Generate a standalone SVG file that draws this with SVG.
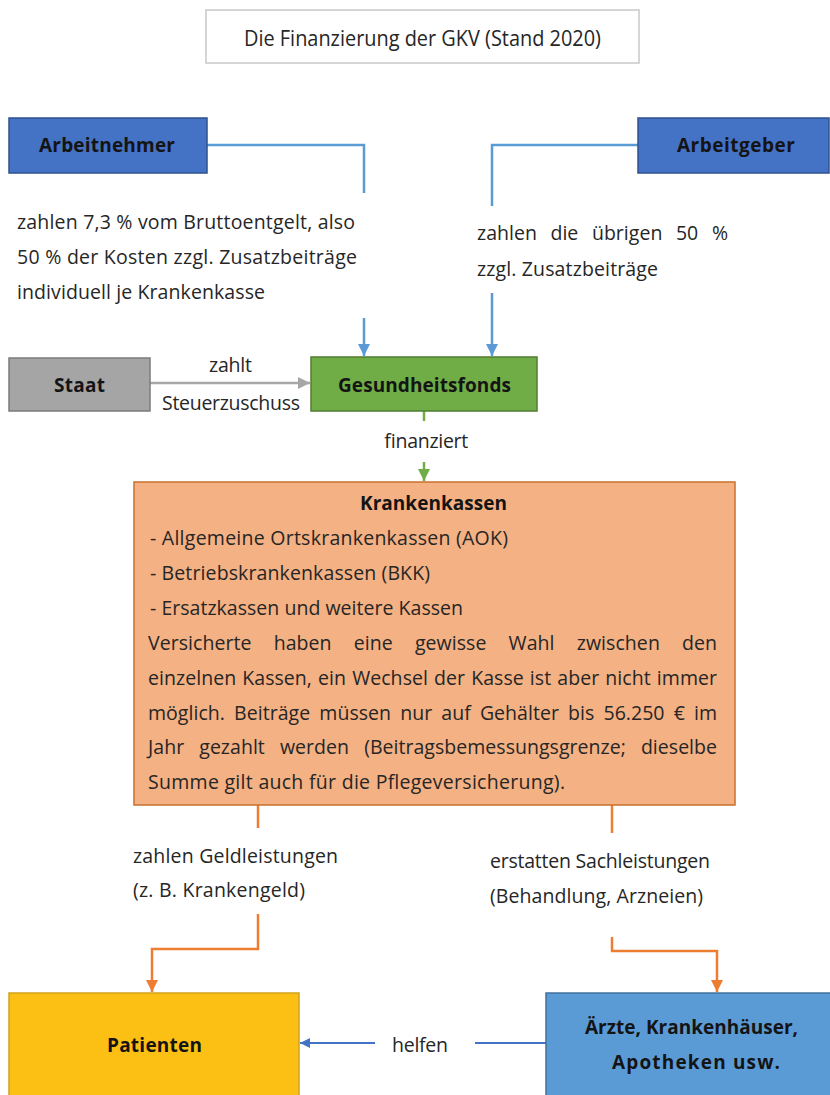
<svg xmlns="http://www.w3.org/2000/svg" width="830" height="1095" viewBox="0 0 830 1095">
<defs>
<style>
.t{font-family:"Open Sans","Noto Sans","DejaVu Sans",sans-serif;font-size:19.5px;fill:#262626}
.b{font-weight:700;fill:#141414;font-size:19px}
.ttl{font-size:21px}
.c{fill:none;stroke-width:2.5}
.blue{stroke:#5b9bd5}
.dblue{stroke:#4472c4;stroke-width:2}
.grey{stroke:#a6a6a6}
.green{stroke:#70ad47}
.orange{stroke:#ed7d31}
</style>
<marker id="mb" markerUnits="userSpaceOnUse" viewBox="0 0 12 12" markerWidth="12" markerHeight="12" refX="12" refY="6" orient="auto"><path d="M0,0 L12,6 L0,12 z" fill="#5b9bd5"/></marker>
<marker id="md" markerUnits="userSpaceOnUse" viewBox="0 0 12 12" markerWidth="10" markerHeight="10" refX="12" refY="6" orient="auto"><path d="M0,0 L12,6 L0,12 z" fill="#4472c4"/></marker>
<marker id="mg" markerUnits="userSpaceOnUse" viewBox="0 0 12 12" markerWidth="12" markerHeight="12" refX="12" refY="6" orient="auto"><path d="M0,0 L12,6 L0,12 z" fill="#a6a6a6"/></marker>
<marker id="mgr" markerUnits="userSpaceOnUse" viewBox="0 0 12 12" markerWidth="12" markerHeight="12" refX="12" refY="6" orient="auto"><path d="M0,0 L12,6 L0,12 z" fill="#70ad47"/></marker>
<marker id="mo" markerUnits="userSpaceOnUse" viewBox="0 0 12 12" markerWidth="12" markerHeight="12" refX="12" refY="6" orient="auto"><path d="M0,0 L12,6 L0,12 z" fill="#ed7d31"/></marker>
</defs>
<rect width="830" height="1095" fill="#ffffff"/>

<g id="connectors">
<polyline class="c blue" points="207,145 364,145 364,193"/>
<line class="c blue" x1="364" y1="318" x2="364" y2="356" marker-end="url(#mb)"/>
<polyline class="c blue" points="638,145 492,145 492,206"/>
<line class="c blue" x1="492" y1="293" x2="492" y2="356" marker-end="url(#mb)"/>
<line class="c grey" x1="150" y1="383" x2="310" y2="383" marker-end="url(#mg)"/>
<line class="c green" x1="424" y1="411" x2="424" y2="421"/>
<line class="c green" x1="424" y1="462" x2="424" y2="481" marker-end="url(#mgr)"/>
<line class="c orange" x1="258" y1="805" x2="258" y2="828"/>
<polyline class="c orange" points="258,914 258,949 152,949 152,992" marker-end="url(#mo)"/>
<line class="c orange" x1="612" y1="805" x2="612" y2="833"/>
<polyline class="c orange" points="612,937 612,951 717,951 717,992" marker-end="url(#mo)"/>
<line class="c dblue" x1="375" y1="1043" x2="300" y2="1043" marker-end="url(#md)"/>
<line class="c dblue" x1="475" y1="1043" x2="546" y2="1043"/>
</g>

<g id="labels">
<text class="t" x="17" y="229" textLength="338">zahlen 7,3 % vom Bruttoentgelt, also</text>
<text class="t" x="17" y="264" textLength="340">50 % der Kosten zzgl. Zusatzbeiträge</text>
<text class="t" x="17" y="299" textLength="248">individuell je Krankenkasse</text>
<text class="t" x="477" y="240" textLength="251" style="word-spacing:8.5px">zahlen die übrigen 50 %</text>
<text class="t" x="477" y="276" textLength="181">zzgl. Zusatzbeiträge</text>
<text class="t" x="209" y="372" textLength="43">zahlt</text>
<text class="t" x="162" y="410" textLength="138">Steuerzuschuss</text>
<text class="t" x="384" y="448" textLength="84">finanziert</text>
<text class="t" x="133" y="863" textLength="205">zahlen Geldleistungen</text>
<text class="t" x="133" y="897" textLength="172">(z. B. Krankengeld)</text>
<text class="t" x="490" y="868" textLength="220">erstatten Sachleistungen</text>
<text class="t" x="490" y="903" textLength="213">(Behandlung, Arzneien)</text>
<text class="t" x="392" y="1052" textLength="56">helfen</text>
</g>

<g id="title">
<rect x="206" y="10" width="433" height="53" fill="#ffffff" stroke="#c8c8c8" stroke-width="1.5"/>
<text class="t ttl" x="244" y="46" textLength="357" lengthAdjust="spacingAndGlyphs">Die Finanzierung der GKV (Stand 2020)</text>
</g>

<g id="arbeitnehmer">
<rect x="9" y="118" width="198" height="55" fill="#4472c4" stroke="#2f528f" stroke-width="1.5"/>
<text class="t b" x="39" y="152" textLength="136">Arbeitnehmer</text>
</g>

<g id="arbeitgeber">
<rect x="638" y="118" width="191" height="55" fill="#4472c4" stroke="#2f528f" stroke-width="1.5"/>
<text class="t b" x="677" y="152" textLength="118">Arbeitgeber</text>
</g>

<g id="staat">
<rect x="9" y="358" width="141" height="53" fill="#a5a5a5" stroke="#7b7b7b" stroke-width="1.5"/>
<text class="t b" x="54" y="392" textLength="51">Staat</text>
</g>

<g id="gesundheitsfonds">
<rect x="311" y="357" width="226" height="54" fill="#70ad47" stroke="#507e32" stroke-width="1.5"/>
<text class="t b" x="338" y="392" textLength="173">Gesundheitsfonds</text>
</g>

<g id="krankenkassen">
<rect x="134" y="482" width="601" height="323" fill="#f4b183" stroke="#c8702f" stroke-width="1.5"/>
<text class="t b" x="360" y="510" textLength="147">Krankenkassen</text>
<text class="t" x="150" y="545" textLength="358">- Allgemeine Ortskrankenkassen (AOK)</text>
<text class="t" x="150" y="580" textLength="280">- Betriebskrankenkassen (BKK)</text>
<text class="t" x="150" y="615" textLength="313">- Ersatzkassen und weitere Kassen</text>
<text class="t" x="148" y="650" textLength="569" style="word-spacing:17px">Versicherte haben eine gewisse Wahl zwischen den</text>
<text class="t" x="148" y="685" textLength="569" style="word-spacing:1px">einzelnen Kassen, ein Wechsel der Kasse ist aber nicht immer</text>
<text class="t" x="148" y="720" textLength="569" style="word-spacing:4px">möglich. Beiträge müssen nur auf Gehälter bis 56.250 € im</text>
<text class="t" x="148" y="754" textLength="569" style="word-spacing:10px">Jahr gezahlt werden (Beitragsbemessungsgrenze; dieselbe</text>
<text class="t" x="148" y="789" textLength="417">Summe gilt auch für die Pflegeversicherung).</text>
</g>

<g id="patienten">
<rect x="9" y="993" width="290" height="110" fill="#fcbf13" stroke="#d2a21a" stroke-width="1.5"/>
<text class="t b" x="107" y="1052" textLength="95">Patienten</text>
</g>

<g id="aerzte">
<rect x="546" y="993" width="290" height="110" fill="#5b9bd5" stroke="#41719c" stroke-width="1.5"/>
<text class="t b" x="585" y="1034" textLength="213">Ärzte, Krankenhäuser,</text>
<text class="t b" x="612" y="1069" textLength="168">Apotheken usw.</text>
</g>
</svg>
